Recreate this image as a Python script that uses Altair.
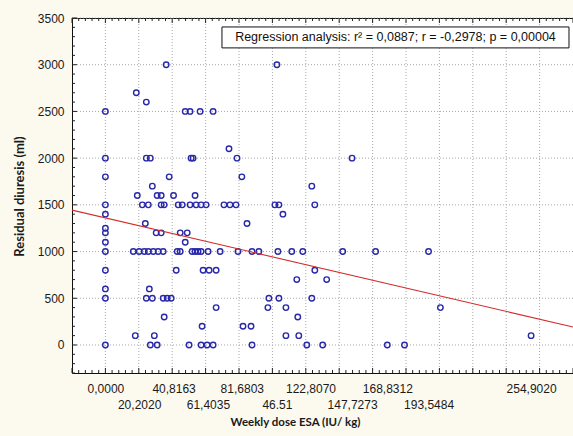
import altair as alt
import pandas as pd

# Weekly ESA dose (IU/kg) for each patient
DOSE = [
    36.4, 102.7,
    18.5,
    24.5,
    0.0, 47.8, 50.7, 56.7, 64.5,
    74.0,
    0.0, 24.5, 26.9, 51.3, 52.5, 78.8, 147.7,
    0.0, 38.2, 81.7,
    28.1, 123.6,
    19.1, 31.0, 33.4, 40.8, 53.7,
    0.0, 22.1, 25.7, 33.4, 35.2, 43.6, 46.0, 50.7, 54.3, 57.3, 60.3, 71.0, 74.6, 78.2, 101.5, 103.9, 125.4,
    0.0, 106.3,
    23.9, 84.8,
    0.0,
    0.0, 30.4, 33.4, 44.8, 49.0,
    0.0, 47.8,
    0.0, 16.7, 20.2, 23.3, 25.7, 28.7, 31.6, 34.6, 43.0, 44.8, 51.9, 53.7, 55.5, 57.3, 61.5, 68.7, 79.4,
    87.8, 91.9, 103.3, 111.6, 118.2, 142.1, 161.8, 193.5,
    0.0, 42.4, 58.5, 62.1, 66.3, 125.4,
    114.6, 132.5,
    0.0, 26.3,
    0.0, 24.5, 28.1, 34.6, 37.0, 39.4, 97.9, 103.9, 123.6,
    66.3, 97.3, 108.1, 200.6,
    35.2, 115.2,
    57.9, 82.4, 87.2,
    17.9, 29.3, 108.1, 115.8, 254.9,
    0.0, 26.9, 31.0, 50.1, 57.3, 60.9, 64.5, 87.8, 120.6, 130.1, 168.8, 179.1,
]

# Residual diuresis (ml), same order as DOSE
DIURESIS = [
    3000, 3000,
    2700,
    2600,
    2500, 2500, 2500, 2500, 2500,
    2100,
    2000, 2000, 2000, 2000, 2000, 2000, 2000,
    1800, 1800, 1800,
    1700, 1700,
    1600, 1600, 1600, 1600, 1600,
    1500, 1500, 1500, 1500, 1500, 1500, 1500, 1500, 1500, 1500, 1500, 1500, 1500, 1500, 1500, 1500, 1500,
    1400, 1400,
    1300, 1300,
    1250,
    1200, 1200, 1200, 1200, 1200,
    1100, 1100,
    1000, 1000, 1000, 1000, 1000, 1000, 1000, 1000, 1000, 1000, 1000, 1000, 1000, 1000, 1000, 1000, 1000,
    1000, 1000, 1000, 1000, 1000, 1000, 1000, 1000,
    800, 800, 800, 800, 800, 800,
    700, 700,
    600, 600,
    500, 500, 500, 500, 500, 500, 500, 500, 500,
    400, 400, 400, 400,
    300, 300,
    200, 200, 200,
    100, 100, 100, 100, 100,
    0, 0, 0, 0, 0, 0, 0, 0, 0, 0, 0, 0,
]

# Fitted regression line: diuresis = INTERCEPT + SLOPE * dose
INTERCEPT = 1360.0
SLOPE = -4.17
STATS_TEXT = "Regression analysis:  r\u00b2 = 0,0887;  r = -0,2978; p = 0,00004"

# Case-value tick labels along x, placed at their dose positions
X_TICK_VALUES = [0.0, 20.202, 40.8163, 61.4035, 81.6803, 102.7, 122.807,
                 147.7273, 168.8312, 193.5484, 254.902]
X_TICK_LABELS = ["0,0000", "20,2020", "40,8163", "61,4035", "81,6803", "46.51",
                 "122,8070", "147,7273", "168,8312", "193,5484", "254,9020"]
Y_TICKS = [0, 500, 1000, 1500, 2000, 2500, 3000, 3500]
X_GRID = list(range(0, 261, 20))

W, H = 501, 355
X_DOMAIN = [-20, 280]
Y_DOMAIN = [-300, 3500]

x_scale = alt.Scale(domain=X_DOMAIN, nice=False, zero=False)
y_scale = alt.Scale(domain=Y_DOMAIN, nice=False, zero=False)

points = pd.DataFrame({"dose": DOSE, "diuresis": DIURESIS})
fit = pd.DataFrame({"dose": X_DOMAIN,
                    "diuresis": [INTERCEPT + SLOPE * d for d in X_DOMAIN]})

vals_js = "[" + ",".join(repr(v) for v in X_TICK_VALUES) + "]"
labels_js = "[" + ",".join(f"'{s}'" for s in X_TICK_LABELS) + "]"
label_expr = f"{labels_js}[indexof({vals_js}, datum.value)]"

x_axis = alt.Axis(
    values=X_TICK_VALUES,
    labelExpr=label_expr,
    labelOverlap=False,
    labelFlush=False,
    labelBaseline="middle",
    labelPadding={"condition": {"test": f"indexof({vals_js}, datum.value) % 2 == 1", "value": 31},
                  "value": 15},
    labelFont="Liberation Sans", labelFontSize=12, labelColor="#1a1a1a",
    grid=False, ticks=False, tickSize=0, domain=False,
    title="Weekly dose ESA (IU/ kg)", titleFont="Lato", titleFontSize=11.5,
    titleFontWeight="bold", titleColor="#1a1a1a",
    titleX=223, titleY=49, titleAlign="center", titleBaseline="middle",
)
y_axis = alt.Axis(
    values=Y_TICKS, format="d",
    labelFont="Liberation Sans", labelFontSize=12, labelColor="#1a1a1a",
    labelPadding=8,
    grid=False, ticks=False, tickSize=0, domain=False,
    title="Residual diuresis (ml)", titleFont="Lato", titleFontSize=13,
    titleFontWeight="bold", titleColor="#1a1a1a",
    titleX=-53, titleY=178, titleAngle=270, titleAlign="center", titleBaseline="middle",
)


def X(field):
    return alt.X(field, scale=x_scale, axis=x_axis)


def Y(field):
    return alt.Y(field, scale=y_scale, axis=y_axis)


GRID_STYLE = dict(color="#a8a8a8", strokeWidth=1, strokeDash=[1, 2])

x_grid = alt.Chart(pd.DataFrame({"g": X_GRID})).mark_rule(**GRID_STYLE).encode(x=X("g:Q"))
y_grid = alt.Chart(pd.DataFrame({"g": Y_TICKS})).mark_rule(**GRID_STYLE).encode(y=Y("g:Q"))

scatter = alt.Chart(points).mark_point(
    shape="circle", filled=False, size=30, strokeWidth=1.4, color="#2828a8", opacity=1
).encode(x=X("dose:Q"), y=Y("diuresis:Q"))

line = alt.Chart(fit).mark_line(color="#d42a2a", strokeWidth=1.1, clip=True).encode(
    x=X("dose:Q"), y=Y("diuresis:Q"))

# inward tick marks on the frame
x_ticks = pd.DataFrame({"v": list(range(-20, 281, 4))})
x_ticks["major"] = [(v % 20 == 0) for v in x_ticks["v"]]
y_ticks = pd.DataFrame({"v": list(range(-300, 3501, 100))})
y_ticks["major"] = [(v % 500 == 0) for v in y_ticks["v"]]


def xtick_layer(major, y0, y1):
    return alt.Chart(x_ticks[x_ticks["major"] == major]).mark_rule(
        color="#222222", strokeWidth=1).encode(
        x=X("v:Q"), y=alt.value(y0), y2=alt.value(y1))


def ytick_layer(major, x0, x1):
    return alt.Chart(y_ticks[y_ticks["major"] == major]).mark_rule(
        color="#222222", strokeWidth=1).encode(
        y=Y("v:Q"), x=alt.value(x0), x2=alt.value(x1))


ticks = [
    xtick_layer(False, H, H - 3), xtick_layer(True, H, H - 5),
    xtick_layer(False, 0, 3), xtick_layer(True, 0, 5),
    ytick_layer(False, 0, 3), ytick_layer(True, 0, 5),
]

BOX_X = [69.8, 277.6]
BOX_Y = [3180, 3404]
box = pd.DataFrame({"x": [BOX_X[0]], "x2": [BOX_X[1]], "y": [BOX_Y[0]], "y2": [BOX_Y[1]],
                    "xm": [sum(BOX_X) / 2], "ym": [sum(BOX_Y) / 2],
                    "label": [STATS_TEXT]})
box_rect = alt.Chart(box).mark_rect(fill="white", stroke="#111111", strokeWidth=1).encode(
    x=X("x:Q"), x2="x2:Q", y=Y("y:Q"), y2="y2:Q")
box_text = alt.Chart(box).mark_text(
    font="Liberation Sans", fontSize=12.5, color="#111111", align="center", baseline="middle"
).encode(x=X("xm:Q"), y=Y("ym:Q"), text="label:N")

chart = alt.layer(x_grid, y_grid, scatter, line, *ticks, box_rect, box_text).properties(
    width=W, height=H,
    autosize=alt.AutoSizeParams(type="none"),
    padding={"left": 72, "top": 18, "right": 0, "bottom": 63},
    background="#fcf9ef",
).configure_view(fill="white", stroke="#111111", strokeWidth=1)

chart.save("out.html", embed_options={"renderer": "svg", "actions": False})
